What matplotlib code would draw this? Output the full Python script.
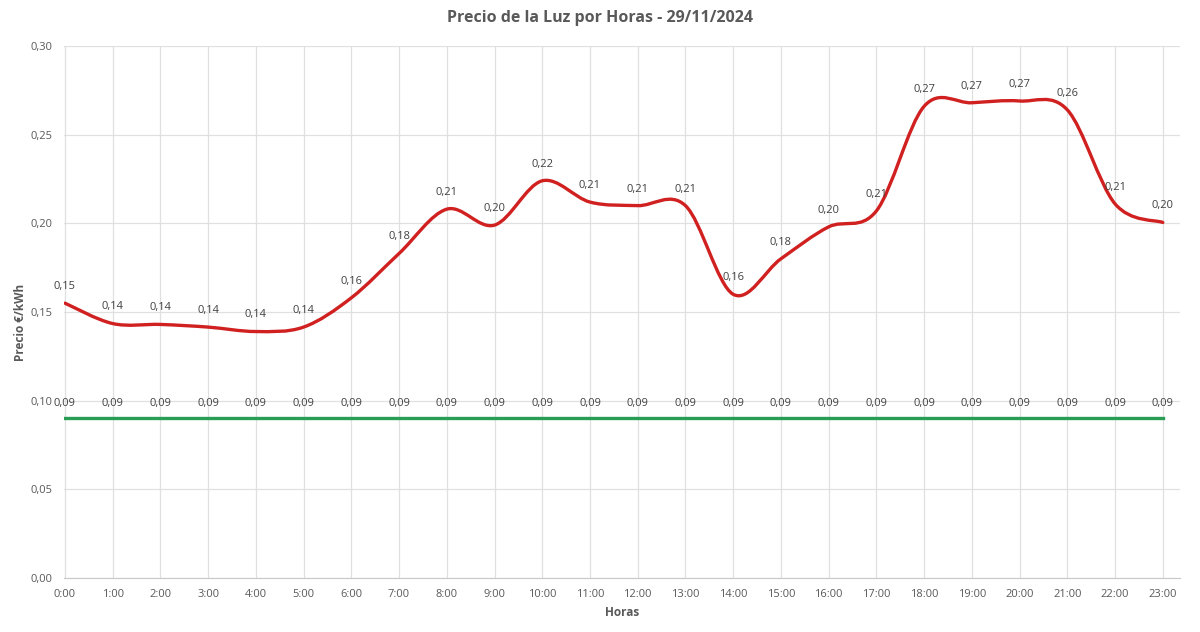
import numpy as np
import matplotlib
matplotlib.use('Agg')
import matplotlib.pyplot as plt
from matplotlib.path import Path
from matplotlib.patches import PathPatch
from matplotlib.ticker import FuncFormatter

# datos
horas = ['0:00', '1:00', '2:00', '3:00', '4:00', '5:00', '6:00', '7:00', '8:00', '9:00',
         '10:00', '11:00', '12:00', '13:00', '14:00', '15:00', '16:00', '17:00', '18:00',
         '19:00', '20:00', '21:00', '22:00', '23:00']
precio = [0.155, 0.1435, 0.143, 0.1415, 0.139, 0.1415, 0.158, 0.183, 0.208, 0.199,
          0.224, 0.212, 0.210, 0.210, 0.160, 0.180, 0.198, 0.207, 0.266,
          0.268, 0.269, 0.264, 0.211, 0.2005]
precio_min = [0.09] * 24

plt.rcParams['font.family'] = ['Open Sans', 'DejaVu Sans']

fig = plt.figure(figsize=(12, 6.32), dpi=100)
ax = fig.add_axes([0.0533, 0.0854, 0.93, 0.8418])

x = np.arange(len(horas))


def suave(xs, ys):
    # curva suavizada tipo Excel (Bezier con tension 1/6)
    pts = np.column_stack([xs, ys])
    verts = [pts[0]]
    codes = [Path.MOVETO]
    n = len(pts)
    for i in range(n - 1):
        p0 = pts[i - 1] if i > 0 else pts[i]
        p1 = pts[i]
        p2 = pts[i + 1]
        p3 = pts[i + 2] if i + 2 < n else pts[i + 1]
        c1 = p1 + (p2 - p0) / 6.0
        c2 = p2 - (p3 - p1) / 6.0
        verts += [c1, c2, p2]
        codes += [Path.CURVE4] * 3
    return Path(verts, codes)


ax.add_patch(PathPatch(suave(x, precio), facecolor='none', edgecolor='#d02020',
                       lw=2.4, capstyle='round', joinstyle='round', zorder=3))
ax.plot(x, precio_min, color='#2a9d55', lw=2.4, zorder=3)

for xi, v in zip(x, precio):
    ax.annotate(f'{v:.2f}'.replace('.', ','), (xi, v), xytext=(0, 8),
                textcoords='offset points', ha='center', va='bottom',
                fontsize=8, color='#404040', zorder=4)
for xi, v in zip(x, precio_min):
    ax.annotate(f'{v:.2f}'.replace('.', ','), (xi, v), xytext=(0, 6.5),
                textcoords='offset points', ha='center', va='bottom',
                fontsize=8, color='#404040', zorder=4)

ax.set_xlim(-0.02, 23.36)
ax.set_ylim(0, 0.30)
ax.set_yticks(np.arange(0, 0.301, 0.05))
ax.yaxis.set_major_formatter(FuncFormatter(lambda v, p: f'{v:.2f}'.replace('.', ',')))
ax.set_xticks(x)
ax.set_xticklabels(horas)

ax.grid(True, color='#e0e0e0', lw=0.9)
ax.set_axisbelow(True)
for s in ['top', 'right', 'left']:
    ax.spines[s].set_visible(False)
ax.spines['bottom'].set_color('#c8c8c8')
ax.tick_params(length=0, labelsize=8, colors='#595959', pad=8)

ax.set_xlabel('Horas', fontsize=8.5, fontweight='bold', color='#595959', labelpad=4)
ax.set_ylabel('Precio €/kWh', fontsize=8.5, fontweight='bold', color='#595959')
ax.yaxis.set_label_coords(-0.033, 0.48)
fig.text(0.5, 0.972, 'Precio de la Luz por Horas - 29/11/2024', fontsize=11.5,
         fontweight='bold', color='#595959', ha='center', va='center')

fig.savefig('out.png', dpi=100, facecolor='white')
